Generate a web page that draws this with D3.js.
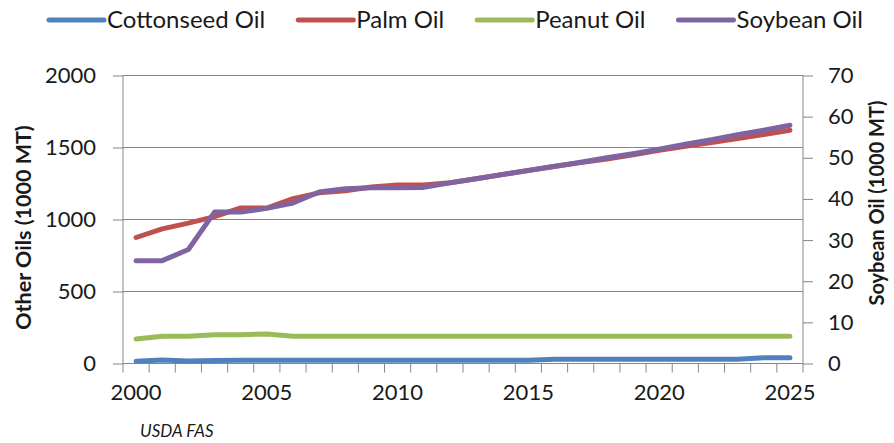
<!DOCTYPE html>
<html>
<head>
<meta charset="utf-8">
<script src="https://cdn.jsdelivr.net/npm/d3@7"></script>
<style>
  html, body { margin: 0; padding: 0; background: #fff; }
  svg { display: block; }
  text { font-family: Lato, "Open Sans", sans-serif; fill: #1a1a1a; }
</style>
</head>
<body>
<svg id="chart" width="894" height="443"></svg>
<script>
// ---- data ----
const years = [2000,2001,2002,2003,2004,2005,2006,2007,2008,2009,2010,2011,2012,
               2013,2014,2015,2016,2017,2018,2019,2020,2021,2022,2023,2024,2025];
const cottonseedOil = [15,25,17,20,22,22,22,22,22,22,22,22,22,22,22,22,30,30,30,30,30,30,30,30,40,40];
const palmOil = [875,935,975,1020,1080,1080,1145,1185,1200,1225,1240,1240,1255,1283,1312,1341,1370,1395,1420,1450,1480,1508,1535,1563,1590,1620];
const peanutOil = [170,190,190,200,200,205,190,190,190,190,190,190,190,190,190,190,190,190,190,190,190,190,190,190,190,190];
const soybeanOil = [25,25,27.7,36.8,36.8,37.7,39,41.7,42.5,42.7,42.7,42.8,43.9,44.9,45.9,46.9,47.9,48.9,50,51,52.1,53.3,54.4,55.6,56.7,57.9];
const leftTicks = [0,500,1000,1500,2000];
const rightTicks = [0,10,20,30,40,50,60,70];
const xLabelYears = [2000,2005,2010,2015,2020,2025];
const seriesNames = ["Cottonseed Oil","Palm Oil","Peanut Oil","Soybean Oil"];
const seriesColors = ["#4F81BD","#C0504D","#9BBB59","#8064A2"];
const leftTitle = "Other Oils (1000 MT)";
const rightTitle = "Soybean Oil (1000 MT)";
const sourceNote = "USDA FAS";

// ---- layout ----
const svg = d3.select("#chart");
const L = 123, R = 803, T = 75.5, B = 363.5;
const gridColor = "#868686";

const x = d3.scaleBand().domain(years).range([L, R]).padding(0);
const xc = d => x(d) + x.bandwidth() / 2;
const yL = d3.scaleLinear().domain([0, 2000]).range([B, T]);
const yR = d3.scaleLinear().domain([0, 70]).range([B, T]);

// gridlines
svg.append("g").selectAll("line").data(leftTicks.filter(v => v > 0)).join("line")
  .attr("x1", L).attr("x2", R)
  .attr("y1", d => yL(d)).attr("y2", d => yL(d))
  .attr("stroke", gridColor).attr("stroke-width", 1);

// left axis
const axL = d3.axisLeft(yL).tickValues(leftTicks).tickFormat(d3.format("d")).tickSize(10).tickPadding(17);
const gL = svg.append("g").attr("transform", `translate(${L},0)`).call(axL);
// right axis
const axR = d3.axisRight(yR).tickValues(rightTicks).tickFormat(d3.format("d")).tickSize(10).tickPadding(15);
const gR = svg.append("g").attr("transform", `translate(${R},0)`).call(axR);
// bottom axis: ticks at band boundaries
const boundaries = years.map(d => x(d)).concat([R]);
const gB = svg.append("g");
gB.append("line").attr("x1", L).attr("x2", R).attr("y1", B).attr("y2", B)
  .attr("stroke", gridColor).attr("stroke-width", 1);
gB.selectAll("line.tk").data(boundaries).join("line").attr("class","tk")
  .attr("x1", d => d).attr("x2", d => d).attr("y1", B).attr("y2", B + 9)
  .attr("stroke", gridColor).attr("stroke-width", 1);
gB.selectAll("text").data(xLabelYears).join("text")
  .attr("x", d => xc(d)).attr("y", 392).attr("dy", "0.35em")
  .attr("text-anchor", "middle").style("font-size", "22px").text(d => d);

[gL, gR].forEach(g => {
  g.select(".domain").attr("stroke", gridColor).attr("stroke-width", 1);
  g.selectAll(".tick line").attr("stroke", gridColor).attr("stroke-width", 1);
  g.selectAll(".tick text").style("font-size", "22px").style("font-family", "Lato, 'Open Sans', sans-serif").attr("fill", "#1a1a1a");
});
gL.select(".domain").attr("d", `M0,${T}V${B}`);
gR.select(".domain").attr("d", `M0,${T}V${B}`);

// lines
const lineL = d3.line().x((d, i) => xc(years[i])).y(d => yL(d));
const lineR = d3.line().x((d, i) => xc(years[i])).y(d => yR(d));
const seriesData = [
  {name: seriesNames[0], values: cottonseedOil, line: lineL, color: seriesColors[0]},
  {name: seriesNames[1], values: palmOil, line: lineL, color: seriesColors[1]},
  {name: seriesNames[2], values: peanutOil, line: lineL, color: seriesColors[2]},
  {name: seriesNames[3], values: soybeanOil, line: lineR, color: seriesColors[3]}
];
svg.append("g").selectAll("path").data(seriesData).join("path")
  .attr("d", s => s.line(s.values))
  .attr("fill", "none").attr("stroke", s => s.color)
  .attr("stroke-width", 5).attr("stroke-linejoin", "round").attr("stroke-linecap", "round");

// axis titles
svg.append("text").attr("transform", `translate(23,227.5) rotate(-90)`)
  .attr("text-anchor", "middle").attr("dy", "0.35em")
  .style("font-size", "21.5px").style("font-weight", "bold").text(leftTitle);
svg.append("text").attr("transform", `translate(877,203) rotate(-90)`)
  .attr("text-anchor", "middle").attr("dy", "0.35em")
  .style("font-size", "20px").style("font-weight", "bold").text(rightTitle);

// source note
svg.append("text").attr("x", 140).attr("y", 431).attr("dy", "0.35em")
  .style("font-size", "17px").style("font-style", "italic").text(sourceNote);

// legend
const lg = svg.append("g");
let cx = 49;
seriesData.forEach(s => {
  lg.append("line").attr("x1", cx).attr("x2", cx + 55).attr("y1", 20).attr("y2", 20)
    .attr("stroke", s.color).attr("stroke-width", 5).attr("stroke-linecap", "round");
  const t = lg.append("text").attr("x", cx + 58).attr("y", 20).attr("dy", "0.35em")
    .style("font-size", "24px").text(s.name);
  cx += 58 + t.node().getComputedTextLength() + 33;
});
</script>
</body>
</html>
